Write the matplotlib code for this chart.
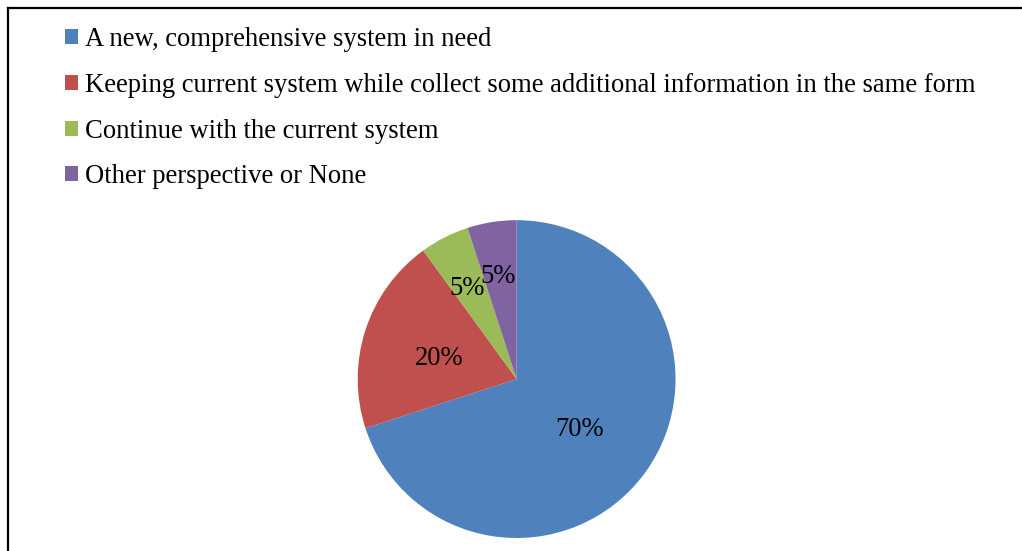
import matplotlib
matplotlib.use("Agg")
import matplotlib.pyplot as plt
from matplotlib.patches import Patch
from matplotlib.lines import Line2D
import numpy as np

categories = [
    "A new, comprehensive system in need",
    "Keeping current system while collect some additional information in the same form",
    "Continue with the current system",
    "Other perspective or None",
]
values = [70, 20, 5, 5]
colors = ["#4F81BD", "#C0504D", "#9BBB59", "#8064A2"]
label_dist = [0.5, 0.5, 0.67, 0.68]

plt.rcParams['font.family'] = ['Liberation Serif', 'DejaVu Serif']

fig = plt.figure(figsize=(10.22, 5.51), dpi=100)
ax = fig.add_axes([0.350, 0.0235, 0.311, 0.577])
wedges, texts, autotexts = ax.pie(values, colors=colors, startangle=90, counterclock=False,
                                  autopct='%d%%', pctdistance=0.5,
                                  textprops=dict(fontsize=19.2, color='black'),
                                  wedgeprops=dict(linewidth=0))
for w, t, d in zip(wedges, autotexts, label_dist):
    ang = np.deg2rad((w.theta1 + w.theta2) / 2)
    t.set_position((d * np.cos(ang) - 0.01, d * np.sin(ang) - 0.025))
ax.set_xlim(-1, 1)
ax.set_ylim(-1, 1)
ax.set_aspect('equal')

handles = [Patch(facecolor=c, edgecolor='none') for c in colors]
fig.legend(handles, categories, loc='upper left', bbox_to_anchor=(65/1022, 1 - 27/551),
           frameon=False, fontsize=19.2, handlelength=0.49, handleheight=0.49,
           handletextpad=0.26, labelspacing=0.78, borderpad=0, borderaxespad=0)

fig.add_artist(Line2D([8/1022, 8/1022], [0, 1 - 8/551], transform=fig.transFigure,
                      color='black', lw=1.6))
fig.add_artist(Line2D([8/1022, 1], [1 - 8/551, 1 - 8/551], transform=fig.transFigure,
                      color='black', lw=1.6))

fig.savefig("out.png", dpi=100)
